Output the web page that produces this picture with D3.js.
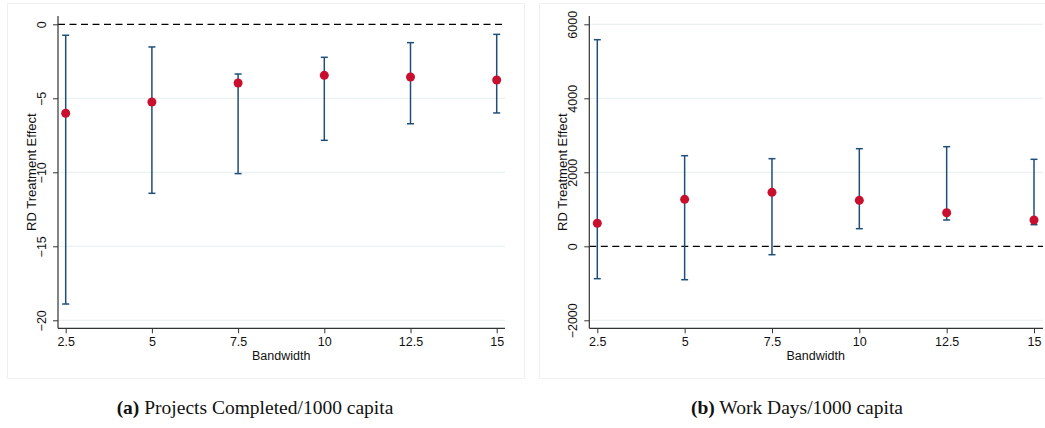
<!DOCTYPE html>
<html>
<head>
<meta charset="utf-8">
<script src="https://cdn.jsdelivr.net/npm/d3@7"></script>
<style>
  html, body { margin: 0; padding: 0; background: #fff; }
  svg { display: block; }
</style>
</head>
<body>
<svg id="chart" width="1045" height="428"></svg>
<script>
// Bandwidths used for the RD estimates
const bandwidths = [2.5, 5, 7.5, 10, 12.5, 15];
const bandwidthTicks = ["2.5", "5", "7.5", "10", "12.5", "15"];

// Panel (a): projects completed per 1000 capita
const projEstimate = [-6.01, -5.25, -3.97, -3.45, -3.56, -3.76];
const projLower    = [-18.9, -11.42, -10.09, -7.84, -6.72, -5.99];
const projUpper    = [-0.74, -1.53, -3.36, -2.23, -1.24, -0.68];
const projYTicks   = [0, -5, -10, -15, -20];

// Panel (b): work days per 1000 capita
const daysEstimate = [622, 1270, 1459, 1243, 908, 711];
const daysLower    = [-875, -903, -227, 476, 711, 584];
const daysUpper    = [5584, 2449, 2368, 2638, 2692, 2351];
const daysYTicks   = [6000, 4000, 2000, 0, -2000];

const svg = d3.select("#chart");
const sansFont = "'Liberation Sans', Arial, Helvetica, sans-serif";
const serifFont = "'Liberation Serif', 'Times New Roman', serif";
const ciColor = "#1f4e79";
const ptColor = "#c8102e";
const gridColor = "#e6eff1";

function panel(cfg) {
  const g = svg.append("g");
  // outer frame of the graph region
  g.append("rect")
    .attr("x", cfg.frame[0]).attr("y", cfg.frame[1])
    .attr("width", cfg.frame[2]).attr("height", cfg.frame[3])
    .attr("fill", "#fff").attr("stroke", "#eef1f3").attr("stroke-width", 1);

  const x = d3.scaleLinear().domain([2.5, 15]).range(cfg.xRange);
  const y = d3.scaleLinear().domain(cfg.yDomain).range(cfg.yRange);

  // horizontal grid lines
  g.append("g").selectAll("line").data(cfg.yTicks.filter(t => t !== 0)).join("line")
    .attr("x1", cfg.left).attr("x2", cfg.right)
    .attr("y1", d => y(d)).attr("y2", d => y(d))
    .attr("stroke", gridColor).attr("stroke-width", 1);

  // reference line at zero
  g.append("line")
    .attr("x1", cfg.left).attr("x2", cfg.right)
    .attr("y1", y(0)).attr("y2", y(0))
    .attr("stroke", "#000").attr("stroke-width", 1.2)
    .attr("stroke-dasharray", "7,4.5");

  // y axis
  const yAxis = d3.axisLeft(y).tickValues(cfg.yTicks).tickSize(5).tickSizeOuter(0)
    .tickFormat(d3.format("d"));
  const ya = g.append("g").attr("transform", `translate(${cfg.left},0)`).call(yAxis);
  ya.select(".domain").remove();
  ya.append("line").attr("x1", 0).attr("x2", 0).attr("y1", cfg.top).attr("y2", cfg.bottom)
    .attr("stroke", "#333").attr("stroke-width", 1.2);
  ya.selectAll(".tick line").attr("stroke", "#333");
  ya.selectAll(".tick text")
    .attr("font-family", sansFont).attr("font-size", 12.5).attr("fill", "#111")
    .attr("transform", "rotate(-90)")
    .attr("x", 0).attr("y", -12)
    .attr("dy", 0)
    .attr("text-anchor", "middle");

  // x axis
  const xAxis = d3.axisBottom(x).tickValues(bandwidths).tickSize(5).tickSizeOuter(0)
    .tickFormat((d, i) => bandwidthTicks[i]);
  const xa = g.append("g").attr("transform", `translate(0,${cfg.bottom})`).call(xAxis);
  xa.select(".domain").remove();
  xa.append("line").attr("x1", cfg.left).attr("x2", cfg.right).attr("y1", 0).attr("y2", 0)
    .attr("stroke", "#333").attr("stroke-width", 1.2);
  xa.selectAll(".tick line").attr("stroke", "#333");
  xa.selectAll(".tick text")
    .attr("font-family", sansFont).attr("font-size", 12.5).attr("fill", "#111")
    .attr("y", 9);

  // axis titles
  g.append("text")
    .attr("x", (cfg.xRange[0] + cfg.xRange[1]) / 2).attr("y", cfg.bottom + 32)
    .attr("text-anchor", "middle")
    .attr("font-family", sansFont).attr("font-size", 12.5).attr("fill", "#111")
    .text("Bandwidth");
  g.append("text")
    .attr("transform", `translate(${cfg.left - 22},${(cfg.top + cfg.bottom) / 2}) rotate(-90)`)
    .attr("text-anchor", "middle")
    .attr("font-family", sansFont).attr("font-size", 13).attr("fill", "#111")
    .text("RD Treatment Effect");

  // confidence intervals
  const rows = bandwidths.map((b, i) => ({ b, est: cfg.est[i], lo: cfg.lo[i], hi: cfg.hi[i] }));
  const ci = g.append("g").attr("stroke", ciColor).attr("stroke-width", 1.5);
  ci.selectAll("line.v").data(rows).join("line").attr("class", "v")
    .attr("x1", d => x(d.b)).attr("x2", d => x(d.b))
    .attr("y1", d => y(d.lo)).attr("y2", d => y(d.hi));
  ci.selectAll("line.lo").data(rows).join("line").attr("class", "lo")
    .attr("x1", d => x(d.b) - 3.5).attr("x2", d => x(d.b) + 3.5)
    .attr("y1", d => y(d.lo)).attr("y2", d => y(d.lo));
  ci.selectAll("line.hi").data(rows).join("line").attr("class", "hi")
    .attr("x1", d => x(d.b) - 3.5).attr("x2", d => x(d.b) + 3.5)
    .attr("y1", d => y(d.hi)).attr("y2", d => y(d.hi));

  // point estimates
  g.append("g").selectAll("circle").data(rows).join("circle")
    .attr("cx", d => x(d.b)).attr("cy", d => y(d.est)).attr("r", 4.5)
    .attr("fill", ptColor);

  // caption
  const cap = g.append("text")
    .attr("x", cfg.captionX).attr("y", 414)
    .attr("text-anchor", "middle")
    .attr("font-family", serifFont).attr("font-size", 19.5).attr("fill", "#111");
  cap.append("tspan").attr("font-weight", "bold").text(cfg.captionTag);
  cap.append("tspan").text(" " + cfg.caption);
}

panel({
  frame: [7.5, 3.5, 517, 375],
  left: 58, right: 505, top: 16, bottom: 328.3,
  xRange: [65.7, 496.7],
  yDomain: [0, -20], yRange: [24.3, 320.3],
  yTicks: projYTicks,
  est: projEstimate, lo: projLower, hi: projUpper,
  captionX: 255, captionTag: "(a)", caption: "Projects Completed/1000 capita"
});

panel({
  frame: [539.5, 3.5, 510, 375],
  left: 589.3, right: 1043, top: 16, bottom: 328.3,
  xRange: [597.3, 1034],
  yDomain: [6000, -2000], yRange: [24.3, 320.3],
  yTicks: daysYTicks,
  est: daysEstimate, lo: daysLower, hi: daysUpper,
  captionX: 797, captionTag: "(b)", caption: "Work Days/1000 capita"
});
</script>
</body>
</html>
